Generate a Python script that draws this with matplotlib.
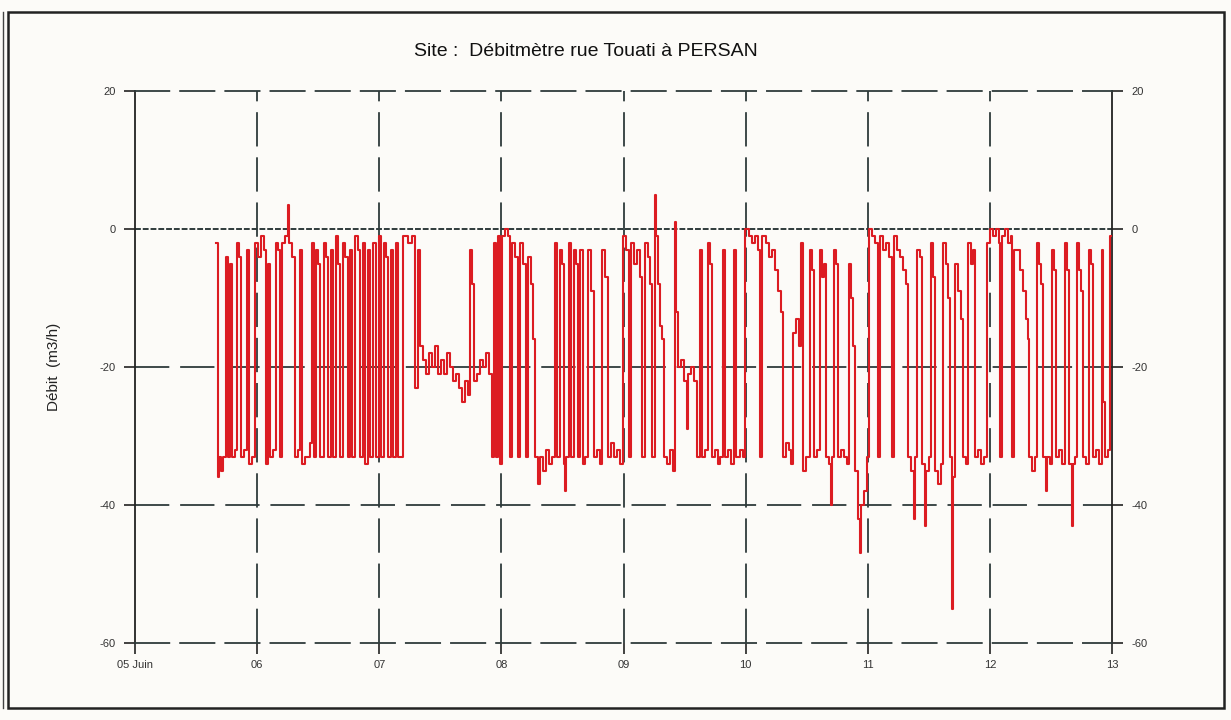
import matplotlib
matplotlib.use("Agg")
import matplotlib.pyplot as plt
from matplotlib.patches import Rectangle
from matplotlib.lines import Line2D

# Temps en jours depuis le 05 Juin 00:00, débit en m3/h (lecture approximative)
jours = [
    0.663, 0.680, 0.688, 0.704, 0.721, 0.745, 0.762, 0.778, 0.794, 0.819,
    0.835, 0.852, 0.868, 0.893, 0.917, 0.934, 0.958, 0.983, 1.007, 1.032,
    1.057, 1.073, 1.089, 1.106, 1.130, 1.155, 1.171, 1.188, 1.204, 1.229,
    1.253, 1.261, 1.286, 1.310, 1.335, 1.351, 1.368, 1.392, 1.433, 1.450,
    1.466, 1.482, 1.499, 1.515, 1.548, 1.564, 1.581, 1.605, 1.622, 1.646,
    1.663, 1.679, 1.704, 1.720, 1.744, 1.761, 1.777, 1.802, 1.826, 1.843,
    1.867, 1.884, 1.908, 1.925, 1.949, 1.974, 1.998, 2.015, 2.039, 2.056,
    2.072, 2.097, 2.113, 2.138, 2.154, 2.195, 2.236, 2.269, 2.293, 2.318,
    2.334, 2.359, 2.383, 2.408, 2.432, 2.457, 2.482, 2.506, 2.531, 2.555,
    2.580, 2.604, 2.629, 2.654, 2.678, 2.703, 2.727, 2.744, 2.760, 2.776,
    2.801, 2.826, 2.850, 2.875, 2.899, 2.924, 2.940, 2.957, 2.973, 2.989,
    3.006, 3.030, 3.055, 3.071, 3.088, 3.112, 3.137, 3.153, 3.178, 3.202,
    3.219, 3.243, 3.260, 3.276, 3.301, 3.317, 3.342, 3.366, 3.391, 3.415,
    3.440, 3.456, 3.481, 3.497, 3.514, 3.522, 3.530, 3.554, 3.571, 3.595,
    3.612, 3.628, 3.645, 3.669, 3.686, 3.710, 3.735, 3.759, 3.784, 3.808,
    3.825, 3.849, 3.874, 3.898, 3.923, 3.948, 3.972, 3.997, 4.021, 4.046,
    4.062, 4.087, 4.111, 4.136, 4.152, 4.177, 4.201, 4.218, 4.234, 4.259,
    4.267, 4.283, 4.300, 4.316, 4.333, 4.357, 4.382, 4.406, 4.423, 4.431,
    4.447, 4.472, 4.496, 4.521, 4.529, 4.554, 4.578, 4.603, 4.627, 4.644,
    4.668, 4.693, 4.709, 4.726, 4.750, 4.775, 4.791, 4.816, 4.832, 4.857,
    4.881, 4.906, 4.922, 4.955, 4.980, 4.996, 5.029, 5.053, 5.078, 5.102,
    5.119, 5.135, 5.168, 5.192, 5.217, 5.242, 5.266, 5.291, 5.307, 5.332,
    5.356, 5.373, 5.389, 5.414, 5.438, 5.455, 5.471, 5.495, 5.512, 5.528,
    5.545, 5.561, 5.586, 5.610, 5.627, 5.643, 5.659, 5.684, 5.700, 5.708,
    5.725, 5.741, 5.758, 5.782, 5.807, 5.831, 5.848, 5.864, 5.880, 5.897,
    5.921, 5.938, 5.946, 5.971, 5.995, 6.011, 6.036, 6.061, 6.085, 6.102,
    6.126, 6.151, 6.175, 6.200, 6.216, 6.241, 6.265, 6.290, 6.314, 6.331,
    6.355, 6.380, 6.388, 6.405, 6.429, 6.446, 6.470, 6.478, 6.503, 6.519,
    6.536, 6.552, 6.577, 6.601, 6.618, 6.642, 6.658, 6.675, 6.691, 6.699,
    6.716, 6.740, 6.765, 6.781, 6.806, 6.822, 6.847, 6.863, 6.880, 6.904,
    6.929, 6.953, 6.978, 7.002, 7.027, 7.052, 7.076, 7.084, 7.101, 7.125,
    7.150, 7.174, 7.183, 7.199, 7.224, 7.248, 7.273, 7.297, 7.314, 7.322,
    7.346, 7.371, 7.387, 7.404, 7.420, 7.437, 7.461, 7.469, 7.494, 7.510,
    7.527, 7.543, 7.568, 7.592, 7.617, 7.633, 7.649, 7.674, 7.682, 7.699,
    7.715, 7.731, 7.748, 7.764, 7.789, 7.813, 7.830, 7.846, 7.871, 7.895,
    7.920, 7.928, 7.944, 7.969, 7.985, 8.002,
]
debit = [
    -2, -36, -33, -35, -33, -4, -33, -5, -33, -32,
    -2, -4, -33, -32, -3, -34, -33, -2, -4, -1,
    -3, -34, -5, -33, -32, -2, -3, -33, -2, -1,
    3.5, -2, -4, -33, -32, -3, -34, -33, -31, -2,
    -33, -3, -5, -33, -2, -4, -33, -3, -33, -1,
    -5, -33, -2, -4, -33, -3, -33, -1, -3, -33,
    -2, -34, -3, -33, -2, -33, -1, -33, -2, -4,
    -33, -3, -33, -2, -33, -1, -2, -1, -23, -3,
    -17, -19, -21, -18, -20, -17, -21, -19, -21, -18,
    -20, -22, -21, -23, -25, -22, -24, -3, -8, -22,
    -21, -19, -20, -18, -21, -33, -2, -33, -1, -34,
    -1, 0, -1, -33, -2, -4, -33, -2, -5, -33,
    -4, -8, -16, -33, -37, -33, -35, -32, -34, -33,
    -2, -33, -3, -5, -34, -38, -33, -2, -33, -3,
    -5, -33, -3, -34, -33, -3, -9, -33, -32, -34,
    -3, -7, -33, -31, -33, -32, -34, -1, -3, -33,
    -2, -5, -3, -7, -33, -2, -4, -8, -33, 5,
    -1, -8, -14, -16, -33, -34, -32, -35, 1, -12,
    -20, -19, -22, -29, -21, -20, -22, -33, -3, -33,
    -32, -2, -5, -33, -32, -34, -33, -3, -33, -32,
    -34, -3, -33, -32, -33, 0, -1, -2, -1, -3,
    -33, -1, -2, -4, -3, -6, -9, -12, -33, -31,
    -32, -34, -15, -13, -17, -2, -35, -33, -33, -3,
    -6, -33, -32, -3, -7, -5, -33, -34, -40, -33,
    -3, -5, -33, -32, -33, -34, -5, -10, -17, -35,
    -42, -47, -40, -38, -33, 0, -1, -2, -33, -1,
    -3, -2, -4, -33, -1, -3, -4, -6, -8, -33,
    -35, -42, -33, -3, -4, -34, -43, -35, -33, -2,
    -7, -35, -37, -34, -2, -5, -10, -33, -55, -36,
    -5, -9, -13, -33, -34, -2, -5, -3, -33, -32,
    -34, -33, -2, 0, -1, 0, -2, -33, -1, 0,
    -2, -1, -33, -3, -3, -6, -9, -13, -16, -33,
    -35, -33, -2, -5, -8, -33, -38, -33, -34, -3,
    -6, -33, -32, -34, -2, -6, -34, -43, -34, -33,
    -2, -6, -9, -33, -34, -3, -5, -33, -32, -34,
    -3, -25, -33, -32, -1, -1,
]
x_ticks = [0, 1, 2, 3, 4, 5, 6, 7, 8]
x_labels = ["05 Juin", "06", "07", "08", "09", "10", "11", "12", "13"]
y_ticks = [-60, -40, -20, 0, 20]
y_labels = ["-60", "-40", "-20", "0", "20"]

plt.rcParams['font.family'] = ['Liberation Sans', 'DejaVu Sans']
bg = '#fcfbf8'
grid_c = '#2f3b3b'
dash = (0, (19, 6))

fig = plt.figure(figsize=(12.31, 7.2), dpi=100, facecolor=bg)
ax = fig.add_axes([135/1231, 1-643/720, (1112-135)/1231, (643-91)/720])
ax.set_facecolor(bg)
ax.set_xlim(0, 8)
ax.set_ylim(-60, 20)

# grid
for xv in x_ticks[1:-1]:
    ax.axvline(xv, color=grid_c, lw=1.3, ls=dash, zorder=1)
for yv in [-40, -20]:
    ax.axhline(yv, color=grid_c, lw=1.3, ls=dash, zorder=1)
ax.axhline(0, color=grid_c, lw=1.4, ls=(0, (3, 1)), zorder=1)

ax.plot(jours, debit, drawstyle='steps-post', color='#dc1c22', lw=1.5, zorder=3)

for side in ['top', 'bottom']:
    ax.spines[side].set_linestyle(dash)
    ax.spines[side].set_color(grid_c)
    ax.spines[side].set_linewidth(1.3)
for side in ['left', 'right']:
    ax.spines[side].set_color('#222')
    ax.spines[side].set_linewidth(1.3)

ax.set_xticks(x_ticks)
ax.set_xticklabels(x_labels)
ax.set_yticks(y_ticks)
ax.set_yticklabels(y_labels)
ax.tick_params(axis='both', colors='#222', labelcolor='#333', labelsize=8,
               length=8, width=1.2, direction='out')
ax.tick_params(axis='y', left=True, right=True, labelleft=True, labelright=True, pad=6)
ax.tick_params(axis='x', pad=4)
ax.set_ylabel("Débit  (m3/h)", fontsize=11, color='#222', labelpad=28)

fig.text(0.476, 0.928, "Site :  Débitmètre rue Touati à PERSAN", ha='center', va='center',
         fontsize=14, color='#111')

# outer frame
fig.patches.append(Rectangle((8/1231, 12/720), (1224-8)/1231, (708-12)/720,
                             transform=fig.transFigure, fill=False, ec='#222', lw=1.8))
fig.lines.append(Line2D([3/1231, 3/1231], [12/720, 708/720], transform=fig.transFigure,
                        color='#444', lw=1.0))

fig.savefig("out.png", dpi=100, facecolor=bg)
